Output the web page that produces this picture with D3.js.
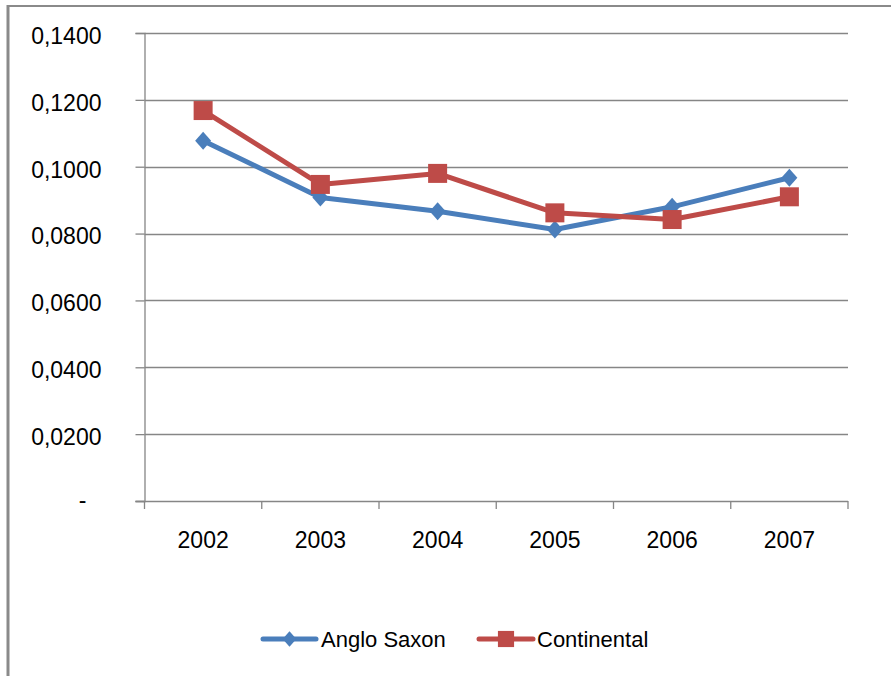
<!DOCTYPE html>
<html>
<head>
<meta charset="utf-8">
<script src="https://cdn.jsdelivr.net/npm/d3@7"></script>
<style>
  html, body { margin: 0; padding: 0; background: #fff; }
  svg { display: block; }
  text { font-family: "Liberation Sans", Arial, sans-serif; fill: #000; }
</style>
</head>
<body>
<svg id="chart" width="891" height="676"></svg>
<script>
const years = ["2002", "2003", "2004", "2005", "2006", "2007"];
const angloSaxon = [0.1078, 0.0908, 0.0867, 0.0812, 0.0880, 0.0967];
const continental = [0.1168, 0.0947, 0.0980, 0.0862, 0.0842, 0.0910];
const yTicks = [0, 0.02, 0.04, 0.06, 0.08, 0.10, 0.12, 0.14];
const seriesNames = ["Anglo Saxon", "Continental"];

const colors = { "Anglo Saxon": "#4A7EBB", "Continental": "#BE4B48" };
const series = [
  { name: seriesNames[0], values: angloSaxon, marker: "diamond" },
  { name: seriesNames[1], values: continental, marker: "square" }
];

const svg = d3.select("#chart");
const plot = { left: 144.5, right: 848, top: 33, bottom: 501 };

// outer frame (top and left edges visible)
svg.append("line").attr("x1", 8).attr("x2", 891).attr("y1", 6).attr("y2", 6)
  .attr("stroke", "#8a8a8a").attr("stroke-width", 2);
svg.append("line").attr("x1", 8).attr("x2", 8).attr("y1", 5).attr("y2", 676)
  .attr("stroke", "#8a8a8a").attr("stroke-width", 3);

const x = d3.scaleBand().domain(years).range([plot.left, plot.right]);
const y = d3.scaleLinear().domain([0, 0.14]).range([plot.bottom, plot.top]);

const fmt = v => v === 0 ? "-" : d3.format(".4f")(v).replace(".", ",");

// gridlines
svg.append("g").selectAll("line").data(yTicks.filter(t => t > 0)).join("line")
  .attr("x1", plot.left).attr("x2", plot.right)
  .attr("y1", d => Math.round(y(d)) + 0.5).attr("y2", d => Math.round(y(d)) + 0.5)
  .attr("stroke", "#868686").attr("stroke-width", 1.3);

// y axis
const yAxis = svg.append("g").attr("transform", `translate(${plot.left},0)`)
  .call(d3.axisLeft(y).tickValues(yTicks).tickFormat(fmt).tickSize(9).tickPadding(34));
yAxis.select(".domain").attr("stroke", "#868686").attr("stroke-width", 1.3);
yAxis.selectAll(".tick line").attr("stroke", "#868686").attr("stroke-width", 1.3);
yAxis.selectAll(".tick text")
  .style("font-family", "'Liberation Sans', Arial, sans-serif")
  .attr("font-size", 23).attr("fill", "#000")
  .attr("dy", d => d === 0 ? "0.3em" : "0.45em")
  .attr("dx", d => d === 0 ? -15 : 0);

// x axis
const xAxis = svg.append("g").attr("transform", `translate(0,${plot.bottom})`)
  .call(d3.axisBottom(x).tickSize(0).tickFormat(d => d).tickPadding(31));
xAxis.select(".domain").attr("stroke", "#868686").attr("stroke-width", 1.5)
  .attr("d", `M${plot.left - 9},0.5H${plot.right}`);
xAxis.selectAll(".tick text")
  .style("font-family", "'Liberation Sans', Arial, sans-serif")
  .attr("font-size", 23).attr("fill", "#000");
// category boundary ticks
const bounds = years.map(d => x(d)).concat([x(years[years.length - 1]) + x.bandwidth()]);
svg.append("g").selectAll("line").data(bounds).join("line")
  .attr("x1", d => d).attr("x2", d => d)
  .attr("y1", plot.bottom).attr("y2", plot.bottom + 8)
  .attr("stroke", "#868686").attr("stroke-width", 1.3);

const cx = d => x(d) + x.bandwidth() / 2;
const line = d3.line().x((v, i) => cx(years[i])).y(v => y(v));

function drawMarker(g, type, color, px, py, scale) {
  if (type === "square") {
    const s = 19 * scale;
    g.append("rect").attr("x", px - s / 2).attr("y", py - s / 2)
      .attr("width", s).attr("height", s).attr("fill", color);
  } else {
    const w = 8 * scale, h = 9 * scale;
    g.append("path").attr("d", `M${px},${py - h}L${px + w},${py}L${px},${py + h}L${px - w},${py}Z`)
      .attr("fill", color);
  }
}

series.forEach(s => {
  const g = svg.append("g");
  g.append("path").datum(s.values).attr("d", line)
    .attr("fill", "none").attr("stroke", colors[s.name]).attr("stroke-width", 5)
    .attr("stroke-linejoin", "round").attr("stroke-linecap", "round");
  s.values.forEach((v, i) => drawMarker(g, s.marker, colors[s.name], cx(years[i]), y(v), 1));
});

// legend
const legendItems = [
  { name: seriesNames[0], marker: "diamond", x0: 263, x1: 316, tx: 321 },
  { name: seriesNames[1], marker: "square", x0: 479, x1: 533, tx: 537 }
];
const ly = 639;
legendItems.forEach(it => {
  const g = svg.append("g");
  g.append("line").attr("x1", it.x0).attr("x2", it.x1).attr("y1", ly).attr("y2", ly)
    .attr("stroke", colors[it.name]).attr("stroke-width", 5).attr("stroke-linecap", "round");
  drawMarker(g, it.marker, colors[it.name], (it.x0 + it.x1) / 2, ly, 0.85);
  g.append("text").attr("x", it.tx).attr("y", ly + 8).attr("font-size", 22).text(it.name);
});
</script>
</body>
</html>
